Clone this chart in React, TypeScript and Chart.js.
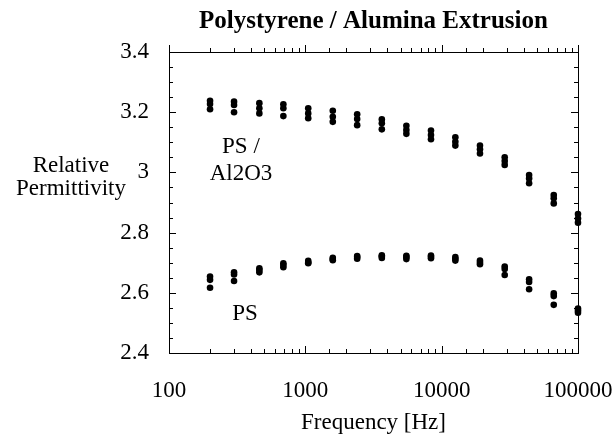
import React, { useEffect, useRef } from "react";
import { Chart, registerables } from "chart.js";

Chart.register(...registerables);

const frequencies = [200, 300, 460, 690, 1050, 1590, 2400, 3640, 5510, 8350, 12600, 19100, 29000, 43800, 66400, 100000];

const psAl2o3Run1 = [3.238, 3.235, 3.230, 3.226, 3.213, 3.205, 3.193, 3.176, 3.155, 3.139, 3.117, 3.089, 3.050, 2.991, 2.925, 2.862];
const psAl2o3Run2 = [3.227, 3.224, 3.213, 3.213, 3.196, 3.185, 3.177, 3.163, 3.141, 3.124, 3.102, 3.077, 3.038, 2.980, 2.914, 2.847];
const psAl2o3Run3 = [3.210, 3.200, 3.196, 3.187, 3.180, 3.168, 3.157, 3.143, 3.128, 3.110, 3.089, 3.063, 3.025, 2.964, 2.897, 2.833];

const psRun1 = [2.654, 2.668, 2.681, 2.698, 2.706, 2.716, 2.722, 2.725, 2.723, 2.724, 2.719, 2.707, 2.687, 2.645, 2.598, 2.548];
const psRun2 = [2.643, 2.661, 2.676, 2.692, 2.701, 2.712, 2.719, 2.721, 2.719, 2.720, 2.713, 2.701, 2.679, 2.636, 2.589, 2.541];
const psRun3 = [2.617, 2.639, 2.668, 2.685, 2.698, 2.708, 2.713, 2.716, 2.712, 2.715, 2.707, 2.695, 2.659, 2.612, 2.560, 2.534];

const xTickLabels = [100, 1000, 10000, 100000];
const yTickLabels = [2.4, 2.6, 2.8, 3, 3.2, 3.4];

const chartTitle = "Polystyrene / Alumina Extrusion";
const xAxisTitle = "Frequency [Hz]";
const yAxisTitleLines = ["Relative", "Permittivity"];
const annotations = [
  { text: "PS /", x: 337, y: 3.085 },
  { text: "Al2O3", x: 337, y: 2.995 },
  { text: "PS", x: 361, y: 2.53 },
];

const FONT = "'Liberation Serif', 'Times New Roman', serif";

const isLabelled = (list: number[], v: number) => list.some((l) => Math.abs(l - v) < 1e-6 * Math.max(1, Math.abs(l)));

const toPoints = (vals: number[]) => frequencies.map((f, i) => ({ x: f, y: vals[i] }));

const framePlugin = {
  id: "frame",
  afterDraw(chart: any) {
    const { ctx, chartArea, scales } = chart;
    const { left, right, top, bottom } = chartArea;
    const x = scales.x;
    const y = scales.y;
    ctx.save();
    ctx.strokeStyle = "#000";
    ctx.lineWidth = 1;
    ctx.strokeRect(Math.round(left) + 0.5, Math.round(top) + 0.5, Math.round(right - left), Math.round(bottom - top));
    ctx.beginPath();
    for (const t of y.ticks) {
      const py = Math.round(y.getPixelForValue(t.value)) + 0.5;
      const len = isLabelled(yTickLabels, t.value) ? 7 : 4;
      ctx.moveTo(left, py);
      ctx.lineTo(left + len, py);
      ctx.moveTo(right, py);
      ctx.lineTo(right - len, py);
    }
    for (const t of x.ticks) {
      const px = Math.round(x.getPixelForValue(t.value)) + 0.5;
      const len = isLabelled(xTickLabels, t.value) ? 7 : 4;
      ctx.moveTo(px, bottom);
      ctx.lineTo(px, bottom - len);
      ctx.moveTo(px, top);
      ctx.lineTo(px, top - len);
    }
    ctx.stroke();

    ctx.fillStyle = "#000";
    ctx.textAlign = "center";
    ctx.textBaseline = "alphabetic";
    ctx.font = `bold 25px ${FONT}`;
    ctx.fillText(chartTitle, (left + right) / 2, 28);

    ctx.font = `23px ${FONT}`;
    ctx.fillText(yAxisTitleLines[0], 71, 172);
    ctx.fillText(yAxisTitleLines[1], 71, 195);

    ctx.textBaseline = "middle";
    for (const a of annotations) {
      ctx.fillText(a.text, x.getPixelForValue(a.x), y.getPixelForValue(a.y));
    }
    ctx.restore();
  },
};

export default function App() {
  const ref = useRef<HTMLCanvasElement | null>(null);

  useEffect(() => {
    if (!ref.current) return;
    const mk = (vals: number[], label: string) => ({
      label,
      data: toPoints(vals),
      showLine: false,
      pointRadius: 3.3,
      pointBackgroundColor: "#000",
      pointBorderColor: "#000",
      pointBorderWidth: 0,
      clip: false as any,
    });
    const chart = new Chart(ref.current, {
      type: "scatter",
      data: {
        datasets: [
          mk(psAl2o3Run1, "PS / Al2O3 (1)"),
          mk(psAl2o3Run2, "PS / Al2O3 (2)"),
          mk(psAl2o3Run3, "PS / Al2O3 (3)"),
          mk(psRun1, "PS (1)"),
          mk(psRun2, "PS (2)"),
          mk(psRun3, "PS (3)"),
        ],
      },
      options: {
        animation: false,
        responsive: true,
        maintainAspectRatio: false,
        layout: { padding: { left: 0, top: 52, right: 37, bottom: 0 } },
        plugins: {
          legend: { display: false },
          title: { display: false },
          tooltip: { enabled: false },
        },
        scales: {
          x: {
            type: "logarithmic",
            min: 100,
            max: 100000,
            grid: { display: false },
            border: { display: false },
            afterFit: (s: any) => {
              s.height = 84;
              s.paddingLeft = 0;
              s.paddingRight = 0;
            },
            ticks: {
              autoSkip: false,
              maxRotation: 0,
              padding: 16,
              color: "#000",
              font: { family: FONT, size: 23 },
              callback: (v: any) => (isLabelled(xTickLabels, Number(v)) ? String(v) : ""),
            },
            title: {
              display: true,
              text: xAxisTitle,
              color: "#000",
              font: { family: FONT, size: 23 },
              padding: { top: 0, bottom: 0 },
            },
          },
          y: {
            min: 2.4,
            max: 3.4,
            grid: { display: false },
            border: { display: false },
            afterFit: (s: any) => {
              s.width = 169;
              s.paddingTop = 0;
              s.paddingBottom = 0;
            },
            ticks: {
              stepSize: 0.05,
              autoSkip: false,
              padding: 12,
              color: "#000",
              font: { family: FONT, size: 23 },
              callback: (v: any) => {
                const n = Number(v);
                return isLabelled(yTickLabels, n) ? String(Math.round(n * 10) / 10) : "";
              },
            },
          },
        },
      },
      plugins: [framePlugin],
    });
    return () => chart.destroy();
  }, []);

  return (
    <div style={{ position: "absolute", left: 0, top: 0, width: 615, height: 437, background: "#fff" }}>
      <canvas ref={ref} />
    </div>
  );
}
